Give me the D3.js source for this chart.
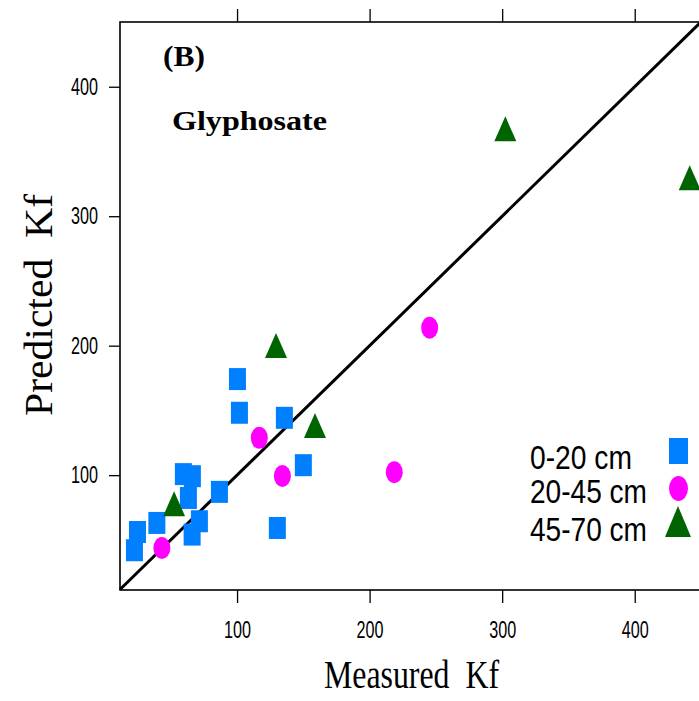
<!DOCTYPE html>
<html>
<head>
<meta charset="utf-8">
<script src="https://cdn.jsdelivr.net/npm/d3@7"></script>
<style>
  body { margin: 0; background: #fff; overflow: hidden; }
  svg { display: block; }
</style>
</head>
<body>
<script>
// measured vs predicted Kf, one array pair per depth
var depthLabels = ["0-20 cm", "20-45 cm", "45-70 cm"];

var measured0_20  = [22.6, 24.9, 39.5, 59.5, 66.3, 63.3, 66.1, 71.6, 86.7, 100.3, 101.8, 135.7, 150.0, 130.4];
var predicted0_20 = [42.0, 56.1, 63.1, 100.8, 99.2, 82.4, 54.1, 64.4, 87.1, 174.2, 148.2, 144.3, 107.7, 59.2];

var measured20_45  = [43.3, 116.8, 134.2, 245.3, 218.6];
var predicted20_45 = [43.8, 128.8, 99.4, 213.9, 102.3];

var measured45_70  = [52.5, 129.4, 158.8, 302.4, 441.5];
var predicted45_70 = [76.8, 199.0, 137.1, 366.3, 328.6];

var tickValues = [100, 200, 300, 400];

var margin = {top:22, left:120, bottom:111, right:-2};
var totalWidth = 699;
var totalHeight = 701;
var width = totalWidth - margin.left - margin.right;
var height = totalHeight - margin.top - margin.bottom;

var svg = d3.select("body")
    .append("svg")
    .attr("width", totalWidth)
    .attr("height", totalHeight);

var g = svg.append("g")
    .attr("transform", "translate(" + margin.left + "," + margin.top + ")");

var xScale = d3.scaleLinear().domain([11.7, 450]).range([0, width]);
var yScale = d3.scaleLinear().domain([11.3, 450]).range([height, 0]);

var tickFont = "'Liberation Sans Narrow', 'Liberation Sans', Arial, sans-serif";

// bottom axis
var xAxisGroup = g.append("g").attr("transform", "translate(0," + height + ")");
xAxisGroup.call(d3.axisBottom(xScale).tickValues(tickValues).tickSize(13).tickPadding(19));

// top axis, ticks only
var topAxisGroup = g.append("g");
topAxisGroup.call(d3.axisTop(xScale).tickValues(tickValues).tickSize(13).tickFormat(""));

// left axis
var yAxisGroup = g.append("g");
yAxisGroup.call(d3.axisLeft(yScale).tickValues(tickValues).tickSize(11).tickPadding(11));

[xAxisGroup, topAxisGroup, yAxisGroup].forEach(function(ax){
    ax.select(".domain").remove();
    ax.selectAll("line").attr("stroke", "#000").attr("stroke-width", 1.3);
    ax.selectAll("text")
      .attr("fill", "#000")
      .style("font-family", tickFont)
      .style("font-size", "23px")
      .attr("textLength", 27)
      .attr("lengthAdjust", "spacingAndGlyphs");
});

// frame
g.append("rect")
    .attr("x", 0).attr("y", 0)
    .attr("width", width).attr("height", height)
    .attr("fill", "none")
    .attr("stroke", "#000")
    .attr("stroke-width", 1.6);

// 1:1 line
g.append("line")
    .attr("x1", xScale(11.7)).attr("y1", yScale(11.7))
    .attr("x2", xScale(450)).attr("y2", yScale(450))
    .attr("stroke", "#000")
    .attr("stroke-width", 3);

var blue = "#0080FF", magenta = "#FF00FF", green = "#006400";

function pairs(xs, ys){ return xs.map(function(d, i){ return [d, ys[i]]; }); }

g.selectAll("rect.s0")
    .data(pairs(measured0_20, predicted0_20))
    .enter().append("rect")
    .attr("class", "s0")
    .attr("x", function(d){ return xScale(d[0]) - 8.5; })
    .attr("y", function(d){ return yScale(d[1]) - 11; })
    .attr("width", 17).attr("height", 22)
    .attr("fill", blue);

g.selectAll("ellipse.s1")
    .data(pairs(measured20_45, predicted20_45))
    .enter().append("ellipse")
    .attr("class", "s1")
    .attr("cx", function(d){ return xScale(d[0]); })
    .attr("cy", function(d){ return yScale(d[1]); })
    .attr("rx", 8.5).attr("ry", 11)
    .attr("fill", magenta);

var tri = "M0,-14L11,11L-11,11Z";
g.selectAll("path.s2")
    .data(pairs(measured45_70, predicted45_70))
    .enter().append("path")
    .attr("class", "s2")
    .attr("d", tri)
    .attr("transform", function(d){ return "translate(" + xScale(d[0]) + "," + yScale(d[1]) + ")"; })
    .attr("fill", green);

// legend
var legendY = [469, 503, 541];
var legendLen = [102, 117, 117];
svg.selectAll("text.leg")
    .data(depthLabels)
    .enter().append("text")
    .attr("class", "leg")
    .attr("x", 530)
    .attr("y", function(d, i){ return legendY[i]; })
    .attr("textLength", function(d, i){ return legendLen[i]; })
    .attr("lengthAdjust", "spacingAndGlyphs")
    .style("font-family", "'Liberation Sans', Arial, sans-serif")
    .style("font-size", "33px")
    .text(function(d){ return d; });

svg.append("rect").attr("x", 669).attr("y", 438).attr("width", 19).attr("height", 26).attr("fill", blue);
svg.append("ellipse").attr("cx", 678.5).attr("cy", 488.5).attr("rx", 9.5).attr("ry", 12.5).attr("fill", magenta);
svg.append("path").attr("d", "M678,506L691,537L665,537Z").attr("fill", green);

// panel labels
svg.append("text")
    .attr("x", 163).attr("y", 66)
    .attr("textLength", 42).attr("lengthAdjust", "spacingAndGlyphs")
    .style("font-family", "'Liberation Serif', 'Times New Roman', serif")
    .style("font-weight", "bold")
    .style("font-size", "30px")
    .text("(B)");

svg.append("text")
    .attr("x", 172).attr("y", 130)
    .attr("textLength", 155).attr("lengthAdjust", "spacingAndGlyphs")
    .style("font-family", "'Liberation Serif', 'Times New Roman', serif")
    .style("font-weight", "bold")
    .style("font-size", "28px")
    .text("Glyphosate");

// axis titles
svg.append("text")
    .attr("x", 324).attr("y", 688)
    .attr("textLength", 175).attr("lengthAdjust", "spacingAndGlyphs")
    .attr("xml:space", "preserve")
    .style("font-family", "'Liberation Serif', 'Times New Roman', serif")
    .style("font-size", "40px")
    .text("Measured  Kf");

svg.append("text")
    .attr("transform", "translate(52,416) rotate(-90)")
    .attr("textLength", 222).attr("lengthAdjust", "spacingAndGlyphs")
    .attr("xml:space", "preserve")
    .style("font-family", "'Liberation Serif', 'Times New Roman', serif")
    .style("font-size", "40px")
    .text("Predicted  Kf");
</script>
</body>
</html>
